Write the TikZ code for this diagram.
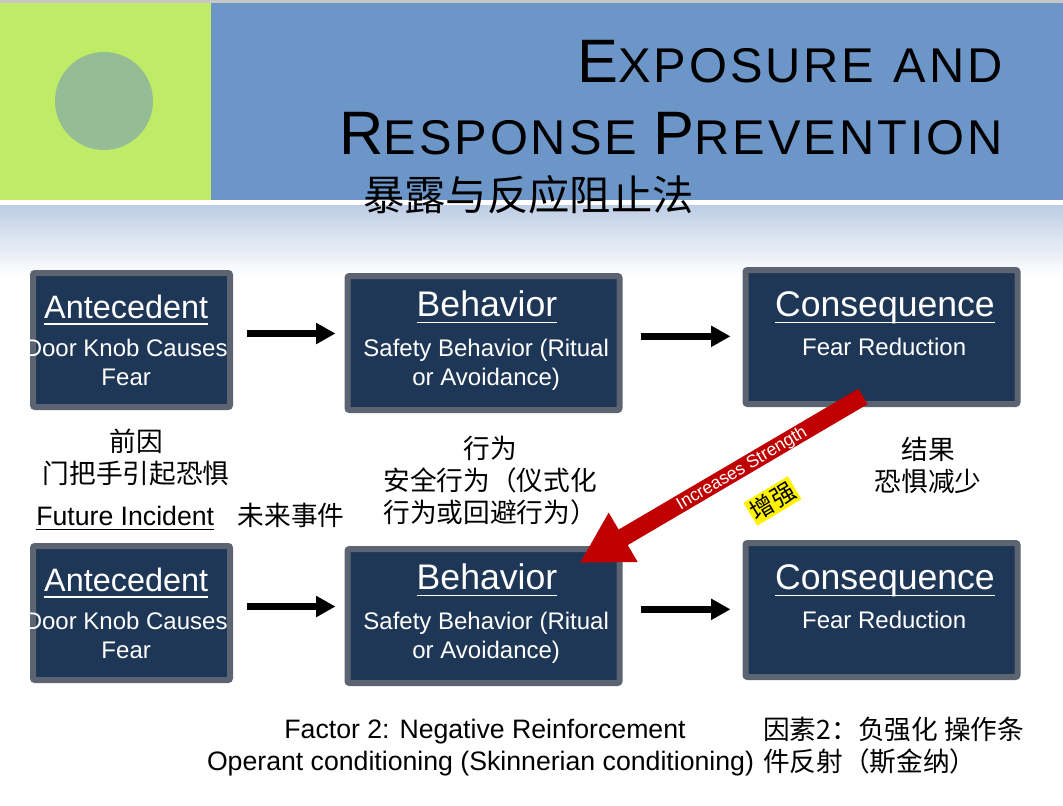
\documentclass[tikz,border=0pt]{standalone}
\usepackage{fontspec}
\setmainfont{Liberation Sans}
\newfontfamily\cjk{Noto Sans CJK SC}
\newfontfamily\spaced[LetterSpace=6]{Liberation Sans}
\usetikzlibrary{arrows.meta,calc}
\definecolor{boxfill}{HTML}{1F3756}
\definecolor{boxline}{HTML}{5B6470}
\definecolor{bandgreen}{HTML}{C0EB66}
\definecolor{bandblue}{HTML}{6C95C8}
\definecolor{discgreen}{HTML}{95BD95}
\definecolor{fadeblue}{HTML}{BCCDE5}
\definecolor{topgray}{HTML}{C8C8C8}
\definecolor{arrowred}{HTML}{C00000}
\newcommand\ulined[3]{\setbox0=\hbox{#3}\rlap{\copy0}\rule[-#1]{\wd0}{#2}}
\newcommand\antefont{\fontsize{24.3pt}{28pt}\selectfont}
\newcommand\headfont{\fontsize{26.7pt}{30pt}\selectfont}
\newcommand\bodyfont{\fontsize{18pt}{21.75pt}\selectfont}
\newcommand\tbig{\fontsize{46pt}{54pt}\selectfont}
\newcommand\tsmall{\fontsize{36.6pt}{54pt}\selectfont}
\newcommand\antetitle[1]{\makebox[0pt]{\antefont\hspace*{-8pt}\ulined{5pt}{1.2pt}{#1}}}
\newcommand\anteline[1]{\makebox[0pt]{\hspace*{-8pt}#1}}
\newcommand\headline[1]{\makebox[0pt]{\headfont\hspace*{5.2pt}\ulined{5pt}{1.2pt}{#1}}}
\newcommand\bodyline[1]{\makebox[0pt]{\hspace*{4pt}#1}}
\tikzset{
  stepbox/.style={draw=boxline,fill=boxfill,line width=4.5pt,rounded corners=1.5pt,text=white,inner sep=0pt,align=center,anchor=center,font=\bodyfont},
  smallbox/.style={stepbox,minimum width=147.75pt,minimum height=100.5pt},
  midbox/.style={stepbox,minimum width=204pt,minimum height=100.5pt},
  flow/.style={line width=5pt,-{Triangle[length=14.5pt,width=15pt]}},
  cjktext/.style={font=\cjk\fontsize{20pt}{24pt}\selectfont,align=center,inner sep=0pt},
  latintext/.style={font=\fontsize{20pt}{24pt}\selectfont,inner sep=0pt},
  strength/.style={line width=13.5pt,arrowred,-{Triangle[length=38pt,width=40pt]}}
}
\begin{document}
\begin{tikzpicture}[x=0.75pt,y=-0.75pt]
\useasboundingbox (0,0) rectangle (1063,806);
% header band
\fill[white] (0,0) rectangle (1063,806);
\fill[topgray] (0,0) rectangle (1063,3);
\fill[bandgreen] (0,3) rectangle (211,200);
\fill[bandblue] (211,3) rectangle (1063,200);
\shade[top color=fadeblue,bottom color=white] (0,205) rectangle (1063,276);
\fill[discgreen] (104,101) circle[radius=49];
% title
\node[anchor=base east,inner sep=0pt,font=\spaced] (title1) at (1003,83) {\tbig E\tsmall XPOSURE\hspace{2.25pt} AND};
\node[anchor=base east,inner sep=0pt,font=\spaced] (title2) at (1003,155) {\tbig R\tsmall ESPONSE \tbig P\tsmall REVENTION};
\node[inner sep=0pt,font=\cjk\fontsize{31pt}{36pt}\selectfont] (titlezh) at (528.5,195) {暴露与反应阻止法};
% row 1
\node[smallbox] (a1) at (131.5,340) {\antetitle{Antecedent}\\[6.75pt]\anteline{Door Knob Causes}\\\anteline{Fear}};
\node[midbox] (b1) at (483.5,343) {\headline{Behavior}\\[8pt]\bodyline{Safety Behavior (Ritual}\\\bodyline{or Avoidance)\rule[-7.5pt]{0pt}{7.5pt}}};
\node[midbox] (c1) at (881.5,337) {\headline{Consequence}\\[7.25pt]\bodyline{Fear Reduction}\\[-1.5pt]\bodyline{\mbox{}}};
% row 2
\node[smallbox] (a2) at (131.5,613) {\antetitle{Antecedent}\\[6.75pt]\anteline{Door Knob Causes}\\\anteline{Fear}};
\node[midbox] (b2) at (483.5,616) {\headline{Behavior}\\[8pt]\bodyline{Safety Behavior (Ritual}\\\bodyline{or Avoidance)\rule[-7.5pt]{0pt}{7.5pt}}};
\node[midbox] (c2) at (881.5,610) {\headline{Consequence}\\[7.25pt]\bodyline{Fear Reduction}\\[-1.5pt]\bodyline{\mbox{}}};
% flow arrows
\draw[flow] ([xshift=10.5pt,yshift=4.9pt]a1.east) -- ([xshift=-6.75pt,yshift=7.1pt]b1.west);
\draw[flow] ([xshift=13.5pt,yshift=5pt]b1.east) -- ([xshift=-9pt,yshift=0.5pt]c1.west);
\draw[flow] ([xshift=10.5pt,yshift=4.9pt]a2.east) -- ([xshift=-6.75pt,yshift=7.1pt]b2.west);
\draw[flow] ([xshift=13.5pt,yshift=5pt]b2.east) -- ([xshift=-9pt,yshift=0.5pt]c2.west);
% captions
\node[cjktext] (zh1) at (136,457) {前因\\门把手引起恐惧};
\node[latintext,anchor=base west] (future) at (36,525) {\ulined{4pt}{1pt}{Future Incident}};
\node[cjktext] (zh2) at (291,515) {未来事件};
\node[cjktext] (zh3) at (490,481) {行为\\安全行为（仪式化\\行为或回避行为）};
\node[cjktext] (zh4) at (928,465) {结果\\恐惧减少};
% strength arrow
\draw[strength] ([xshift=-13.9pt,yshift=7.9pt]c1.south) -- ([xshift=-32.25pt,yshift=-12.75pt]b2.north east);
\node[rotate=30.4,text=white,inner sep=0pt,font=\fontsize{13.2pt}{16pt}\selectfont] (inc) at (742,469) {Increases Strength};
\node[rotate=31,fill=yellow,inner sep=0pt,minimum width=38.7pt,minimum height=20pt,cjktext,font=\cjk\fontsize{18pt}{20pt}\selectfont] (zeng) at (772.5,501) {增强};
% footer
\node[latintext,anchor=base] (f1) at (485,738) {Factor 2: Negative Reinforcement};
\node[latintext,anchor=base] (f2) at (480.5,770) {Operant conditioning (Skinnerian conditioning)};
\node[cjktext,anchor=base west] (f3) at (763,739.5) {因素2：负强化 操作条};
\node[cjktext,anchor=base west] (f4) at (763,771.5) {件反射（斯金纳）};
\end{tikzpicture}
\end{document}
